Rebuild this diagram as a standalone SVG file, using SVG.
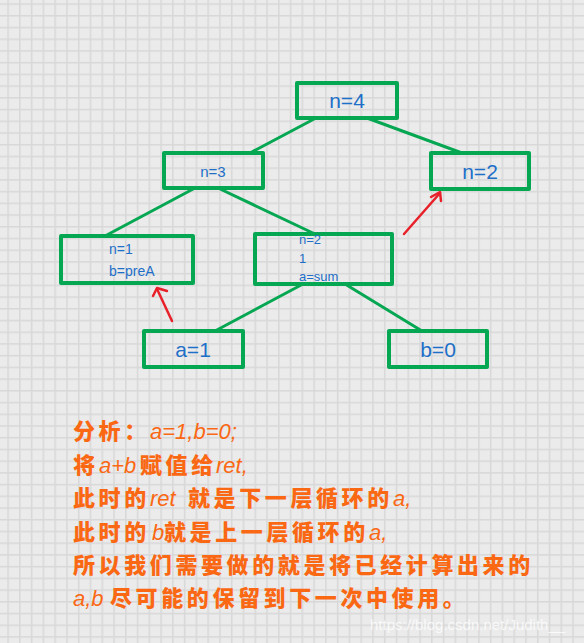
<svg xmlns="http://www.w3.org/2000/svg" width="584" height="643" viewBox="0 0 584 643">
<defs>
<pattern id="grid" patternUnits="userSpaceOnUse" x="7.3" y="3.3" width="11.77" height="11.72">
<rect x="0" y="0" width="11.77" height="11.72" fill="#ebebeb"/>
<rect x="0" y="0" width="1.5" height="11.72" fill="#d8d8d8"/>
<rect x="0" y="0" width="11.77" height="1.5" fill="#d8d8d8"/>
</pattern>
<style>
.box{fill:none;stroke:#06a752;stroke-width:4;stroke-linejoin:round}
.edge{stroke:#06a752;stroke-width:3;stroke-linecap:round;fill:none}
.red{stroke:#e8202a;stroke-width:2.5;stroke-linecap:round;stroke-linejoin:round;fill:none}
.lbl{font-family:"Liberation Sans","DejaVu Sans",sans-serif;fill:#1e6fc8}
.big{font-size:21px}
.sm{font-size:13px}
.note{font-family:"Noto Sans CJK SC","Liberation Sans",sans-serif;font-size:22px;font-weight:900;fill:#fa6814;letter-spacing:3.6px}
.lat{font-family:"Liberation Sans","DejaVu Sans",sans-serif;font-weight:normal;font-style:italic;letter-spacing:0}
.wm{font-family:"Liberation Sans",sans-serif;font-size:15px;fill:#ffffff;fill-opacity:0.75}
</style>
</defs>
<rect width="584" height="643" fill="url(#grid)"/>
<g id="connectors">
<line class="edge" x1="316" y1="118" x2="250" y2="153"/>
<line class="edge" x1="367" y1="118" x2="462" y2="153"/>
<line class="edge" x1="195" y1="188" x2="105" y2="236"/>
<line class="edge" x1="218" y1="188" x2="315" y2="234"/>
<line class="edge" x1="303" y1="284" x2="215" y2="331"/>
<line class="edge" x1="345" y1="284" x2="422" y2="331"/>
<polyline class="red" points="172,321 157,289"/>
<polyline class="red" points="153,296 157,288 167,291"/>
<polyline class="red" points="404,234 440,193"/>
<polyline class="red" points="431,197 440,192 441,201"/>
</g>
<g id="n4">
<rect class="box" x="297" y="83" width="100" height="35"/>
<text class="lbl big" x="347" y="108" text-anchor="middle">n=4</text>
</g>
<g id="n3">
<rect class="box" x="164" y="153" width="99" height="35"/>
<text class="lbl" font-size="15" x="213" y="177" text-anchor="middle">n=3</text>
</g>
<g id="n2">
<rect class="box" x="431" y="153" width="98" height="36"/>
<text class="lbl big" x="480" y="179" text-anchor="middle">n=2</text>
</g>
<g id="n1">
<rect class="box" x="61" y="236" width="132" height="47"/>
<text class="lbl" font-size="14" x="109" y="254">n=1</text>
<text class="lbl" font-size="14" x="109" y="276">b=preA</text>
</g>
<g id="nsum">
<rect class="box" x="255" y="234" width="137" height="50"/>
<text class="lbl sm" x="299" y="244">n=2</text>
<text class="lbl sm" x="299" y="263">1</text>
<text class="lbl sm" x="299" y="281">a=sum</text>
</g>
<g id="na1">
<rect class="box" x="144" y="331" width="99" height="36"/>
<text class="lbl big" x="193" y="357" text-anchor="middle">a=1</text>
</g>
<g id="nb0">
<rect class="box" x="389" y="331" width="98" height="36"/>
<text class="lbl big" x="438" y="357" text-anchor="middle">b=0</text>
</g>
<g id="analysis">
<text class="note" y="439"><tspan x="73">分析：</tspan><tspan class="lat" x="150">a=1,b=0;</tspan></text>
<text class="note" y="473"><tspan x="73">将</tspan><tspan class="lat" x="99">a+b</tspan><tspan x="140">赋值给</tspan><tspan class="lat" x="216">ret,</tspan></text>
<text class="note" y="506"><tspan x="73">此时的</tspan><tspan class="lat" x="150">ret</tspan><tspan x="188">就是下一层循环的</tspan><tspan class="lat" x="393">a,</tspan></text>
<text class="note" y="540"><tspan x="73">此时的</tspan><tspan class="lat" x="152">b</tspan><tspan x="164">就是上一层循环的</tspan><tspan class="lat" x="369">a,</tspan></text>
<text class="note" y="573"><tspan x="73">所以我们需要做的就是将已经计算出来的</tspan></text>
<text class="note" y="606"><tspan class="lat" x="73">a,b</tspan><tspan x="110">尽可能的保留到下一次中使用。</tspan></text>
</g>
<text class="wm" x="370" y="630">https://blog.csdn.net/Judith__</text>
</svg>
